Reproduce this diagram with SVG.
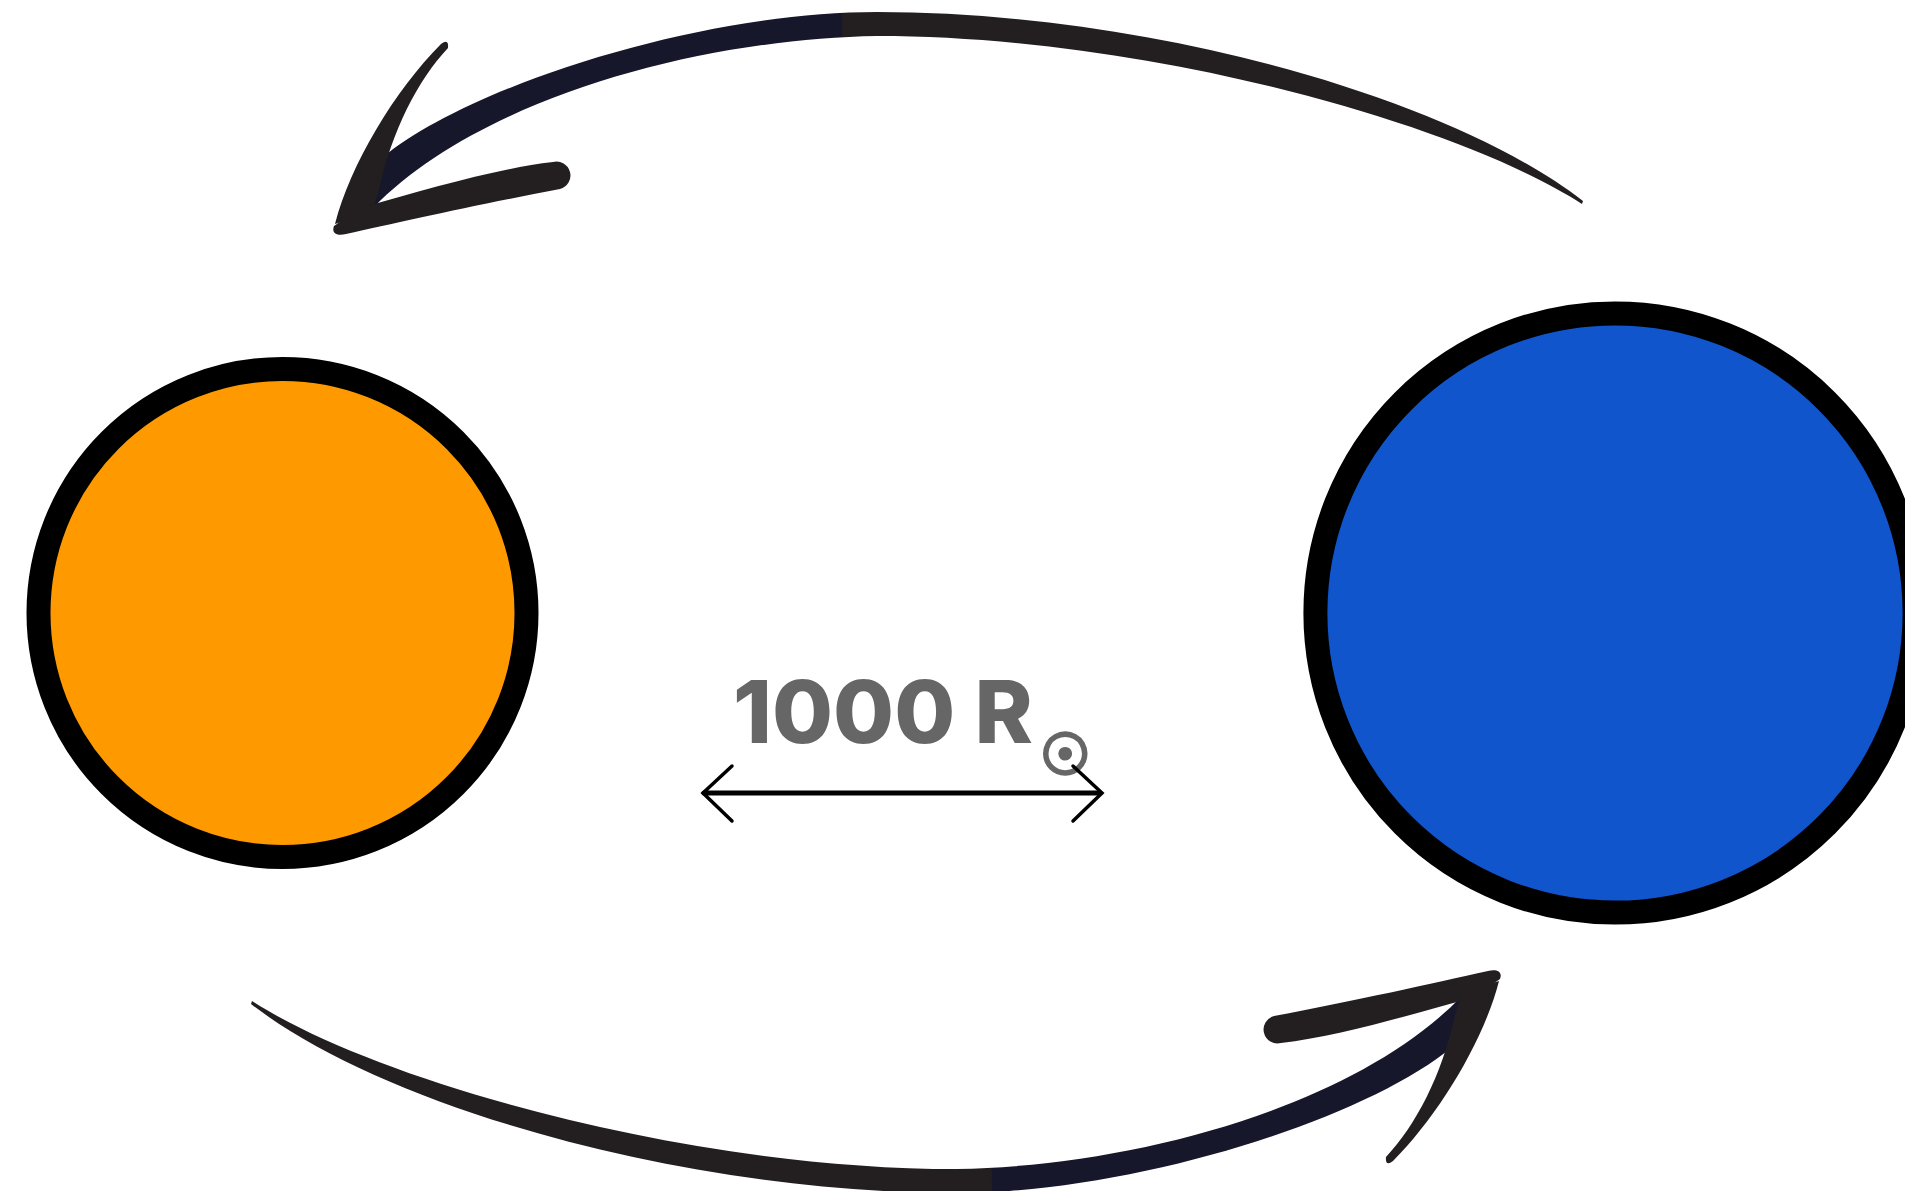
<svg xmlns="http://www.w3.org/2000/svg" xmlns:xlink="http://www.w3.org/1999/xlink" width="1905" height="1191" viewBox="0 0 1905 1191">
  <style>
    .star { stroke: #000000; stroke-width: 24; }
    .label { font-family: "Inter", "Liberation Sans", sans-serif; font-weight: 800; fill: #666666; }
    .sym { font-family: "DejaVu Sans", sans-serif; font-weight: 400; stroke: #666666; stroke-width: 3.5; }
    .ruler { fill: none; stroke: #000000; stroke-linecap: round; stroke-linejoin: miter; }
    .ink { fill: #231f20; }
  </style>
  <defs>
    <!-- brush arc: navy on the head side, near-black towards the tail -->
    <linearGradient id="arcInk" gradientUnits="userSpaceOnUse" x1="330" y1="0" x2="1590" y2="0">
      <stop offset="0" stop-color="#17172b"/>
      <stop offset="0.406" stop-color="#17172b"/>
      <stop offset="0.407" stop-color="#231f20"/>
      <stop offset="1" stop-color="#231f20"/>
    </linearGradient>
    <g id="orbit-arrow">
      <!-- tapered arc body -->
      <path fill="url(#arcInk)" d="M 382 158 C 468 86, 700 12, 877 12 C 1150 12, 1450 98, 1583 201 L 1582 204 C 1460 125, 1150 36, 877 36 C 700 39, 480 98, 373 208 L 345 222 Z"/>
      <!-- upper barb (thin spike) -->
      <path class="ink" d="M 335 224 C 350 165, 395 90, 441 44 Q 449 38, 448 48 C 418 80, 392 130, 379 190 L 372 212 Z"/>
      <!-- lower barb (thick, rounded end) -->
      <path class="ink" d="M 334 226 C 331 234, 338 236, 346 234 C 400 222, 480 204, 560 189 A 13 13 0 0 0 553 162 C 500 168, 430 188, 360 208 Z"/>
    </g>
  </defs>

  <rect width="1905" height="1191" fill="#ffffff"/>

  <g id="orange-star">
    <circle class="star" cx="282.5" cy="613" r="244" fill="#ff9900"/>
  </g>

  <g id="blue-star">
    <circle class="star" cx="1615" cy="613" r="299.6" fill="#1155cc"/>
  </g>

  <g id="separation-label">
    <text class="label" font-size="87"><tspan x="733" y="743" textLength="300" lengthAdjust="spacingAndGlyphs">1000 R</tspan><tspan class="sym" x="1065" y="774" font-size="56" text-anchor="middle">☉</tspan></text>
    <!-- double-headed distance ruler -->
    <line class="ruler" x1="704" y1="793" x2="1100" y2="793" stroke-width="5"/>
    <polyline class="ruler" points="732,766 703,793 732,821" stroke-width="3.5"/>
    <polyline class="ruler" points="1073,766 1102,793 1073,821" stroke-width="3.5"/>
  </g>

  <g id="connectors">
    <use id="arrow-top" xlink:href="#orbit-arrow"/>
    <use id="arrow-bottom" xlink:href="#orbit-arrow" transform="rotate(180 917 602.5)"/>
  </g>
</svg>
